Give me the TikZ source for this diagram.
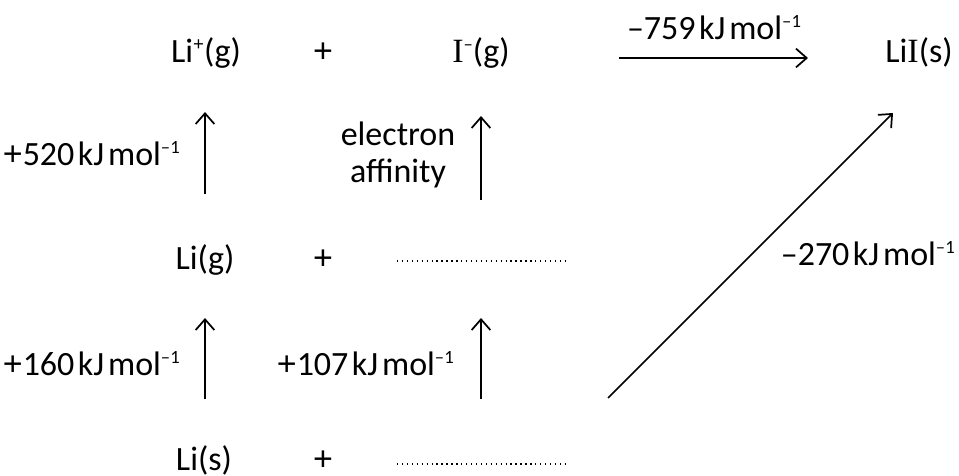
\documentclass[tikz,border=0pt]{standalone}
\usepackage{fontspec}
\setmainfont{Carlito}
\newfontfamily\iodfont{Liberation Serif}
\newfontfamily\plusfont{Liberation Sans}
\usetikzlibrary{arrows.meta}
\newcommand{\sups}[1]{\raisebox{9pt}{\fontsize{14}{14}\selectfont #1}}
\newcommand{\kjmol}{\kern2.5pt kJ\kern3pt mol\sups{–1}}
\newcommand{\Iod}{{\iodfont I}}
\newcommand{\pl}{{\plusfont +}}

\tikzset{
  species/.style={anchor=base, inner sep=0pt, font=\fontsize{25.5}{28}\selectfont},
  energy/.style={anchor=base east, inner sep=0pt, font=\fontsize{25.5}{28}\selectfont},
  steparrow/.style={-{Straight Barb[length=8pt,width=14pt]}, line width=1.3pt},
  blank/.style={dash pattern=on 1pt off 2.7pt, line width=1.2pt}
}

\begin{document}
\begin{tikzpicture}[x=0.75pt, y=-0.75pt]
  \useasboundingbox (0,0) rectangle (959,475);

  % top row
  \node[species] (lip) at (206,62) {Li\sups{\pl}(g)};
  \node[species] (plus1) at (323,62) {\pl};
  \node[species] (im) at (481,62) {\Iod\sups{–}(g)};
  \node[species] (lii) at (919,62) {Li\Iod(s)};

  % middle row
  \node[species] (lig) at (205,269) {Li(g)};
  \node[species] (plus2) at (323,269) {\pl};
  \coordinate (ig-l) at (397,261);
  \coordinate (ig-r) at (565,261);
  \draw[blank] (ig-l) -- (ig-r);

  % bottom row
  \node[species] (lis) at (204,470) {Li(s)};
  \node[species] (plus3) at (323,470) {\pl};
  \coordinate (is-l) at (397,464);
  \coordinate (is-r) at (565,464);
  \draw[blank] (is-l) -- (is-r);

  % arrow ends
  \coordinate (ie-s) at (205,194);
  \coordinate (ie-e) at (205,112);
  \coordinate (ea-s) at (481,200);
  \coordinate (ea-e) at (481,116);
  \coordinate (at-s) at (205,399);
  \coordinate (at-e) at (205,318);
  \coordinate (io-s) at (481,399);
  \coordinate (io-e) at (481,318);
  \coordinate (le-s) at (619,58);
  \coordinate (le-e) at (808,58);
  \coordinate (fo-s) at (608,398);
  \coordinate (fo-e) at (893,113);

  \draw[steparrow] (ie-s) -- (ie-e);
  \draw[steparrow] (ea-s) -- (ea-e);
  \draw[steparrow] (at-s) -- (at-e);
  \draw[steparrow] (io-s) -- (io-e);
  \draw[steparrow] (le-s) -- (le-e);
  \draw[steparrow] (fo-s) -- (fo-e);

  % energy labels
  \node[energy] (h520) at (180,165) {\pl520\kjmol};
  \node[species, align=center, anchor=center] (ea) at (398,155) {electron\\affinity};
  \node[energy] (h160) at (180,375) {\pl160\kjmol};
  \node[energy] (h107) at (454,375) {\pl107\kjmol};
  \node[species] (h759) at (714,39) {–759\kjmol};
  \node[energy] (h270) at (955,265) {–270\kjmol};
\end{tikzpicture}
\end{document}
